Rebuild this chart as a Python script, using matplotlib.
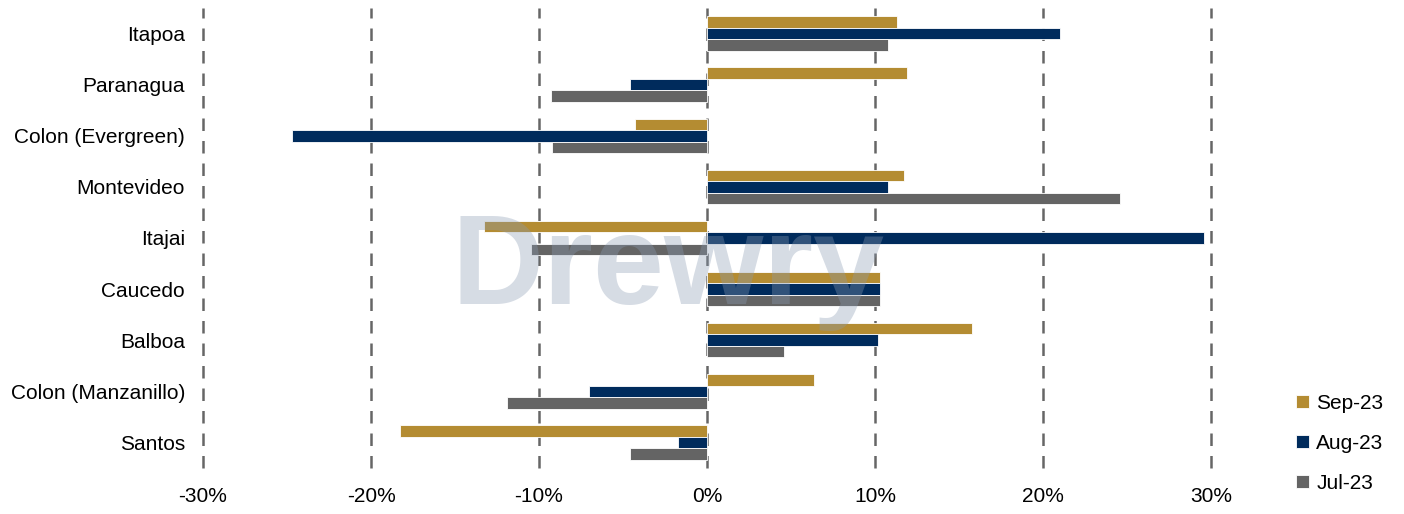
import matplotlib.pyplot as plt
import numpy as np

ports = ["Itapoa", "Paranagua", "Colon (Evergreen)", "Montevideo", "Itajai",
         "Caucedo", "Balboa", "Colon (Manzanillo)", "Santos"]
sep23 = [11.3, 11.9, -4.3, 11.7, -13.3, 10.3, 15.8, 6.4, -18.3]
aug23 = [21.0, -4.6, -24.7, 10.8, 29.6, 10.3, 10.2, -7.0, -1.7]
jul23 = [10.8, -9.3, -9.2, 24.6, -10.5, 10.3, 4.6, -11.9, -4.6]

plt.rcParams['font.family'] = ['Liberation Sans', 'DejaVu Sans']

fig = plt.figure(figsize=(14.04, 5.14), dpi=100)
ax = fig.add_axes([0.1446, 0.0895, 0.7179, 0.895])

y = np.arange(len(ports))
h = 0.225
ax.barh(y - h, sep23, height=h, color="#B48C32", edgecolor="white", linewidth=0.6, label="Sep-23", zorder=3)
ax.barh(y, aug23, height=h, color="#002B5C", edgecolor="white", linewidth=0.6, label="Aug-23", zorder=3)
ax.barh(y + h, jul23, height=h, color="#646464", edgecolor="white", linewidth=0.6, label="Jul-23", zorder=3)

ax.set_xlim(-30, 30)
ax.set_ylim(len(ports) - 0.5, -0.5)
ax.set_xticks(range(-30, 31, 10))
ax.set_xticklabels([f"{v}%" for v in range(-30, 31, 10)], fontsize=15)
ax.set_yticks(y)
ax.set_yticklabels(ports, fontsize=15)
ax.tick_params(length=0, pad=13, axis='y')
ax.tick_params(length=0, pad=14, axis='x')
ax.xaxis.grid(True, linestyle=(0, (5, 4)), color="#666666", linewidth=1.8, zorder=1)
for gl in ax.get_xgridlines():
    gl.set_clip_on(False)
for s in ax.spines.values():
    s.set_visible(False)

# watermark
ax.text(-2.3, 5.3, "Drewry", fontsize=92, fontweight="bold", color="#8A9BB3", alpha=0.35,
        ha="center", va="baseline", zorder=4)

fig.legend(loc="lower left", bbox_to_anchor=(0.91, 0.005), frameon=False,
           fontsize=15, handlelength=0.6, handleheight=0.6, labelspacing=1.0,
           handletextpad=0.35)

fig.savefig("out.png", dpi=100)
